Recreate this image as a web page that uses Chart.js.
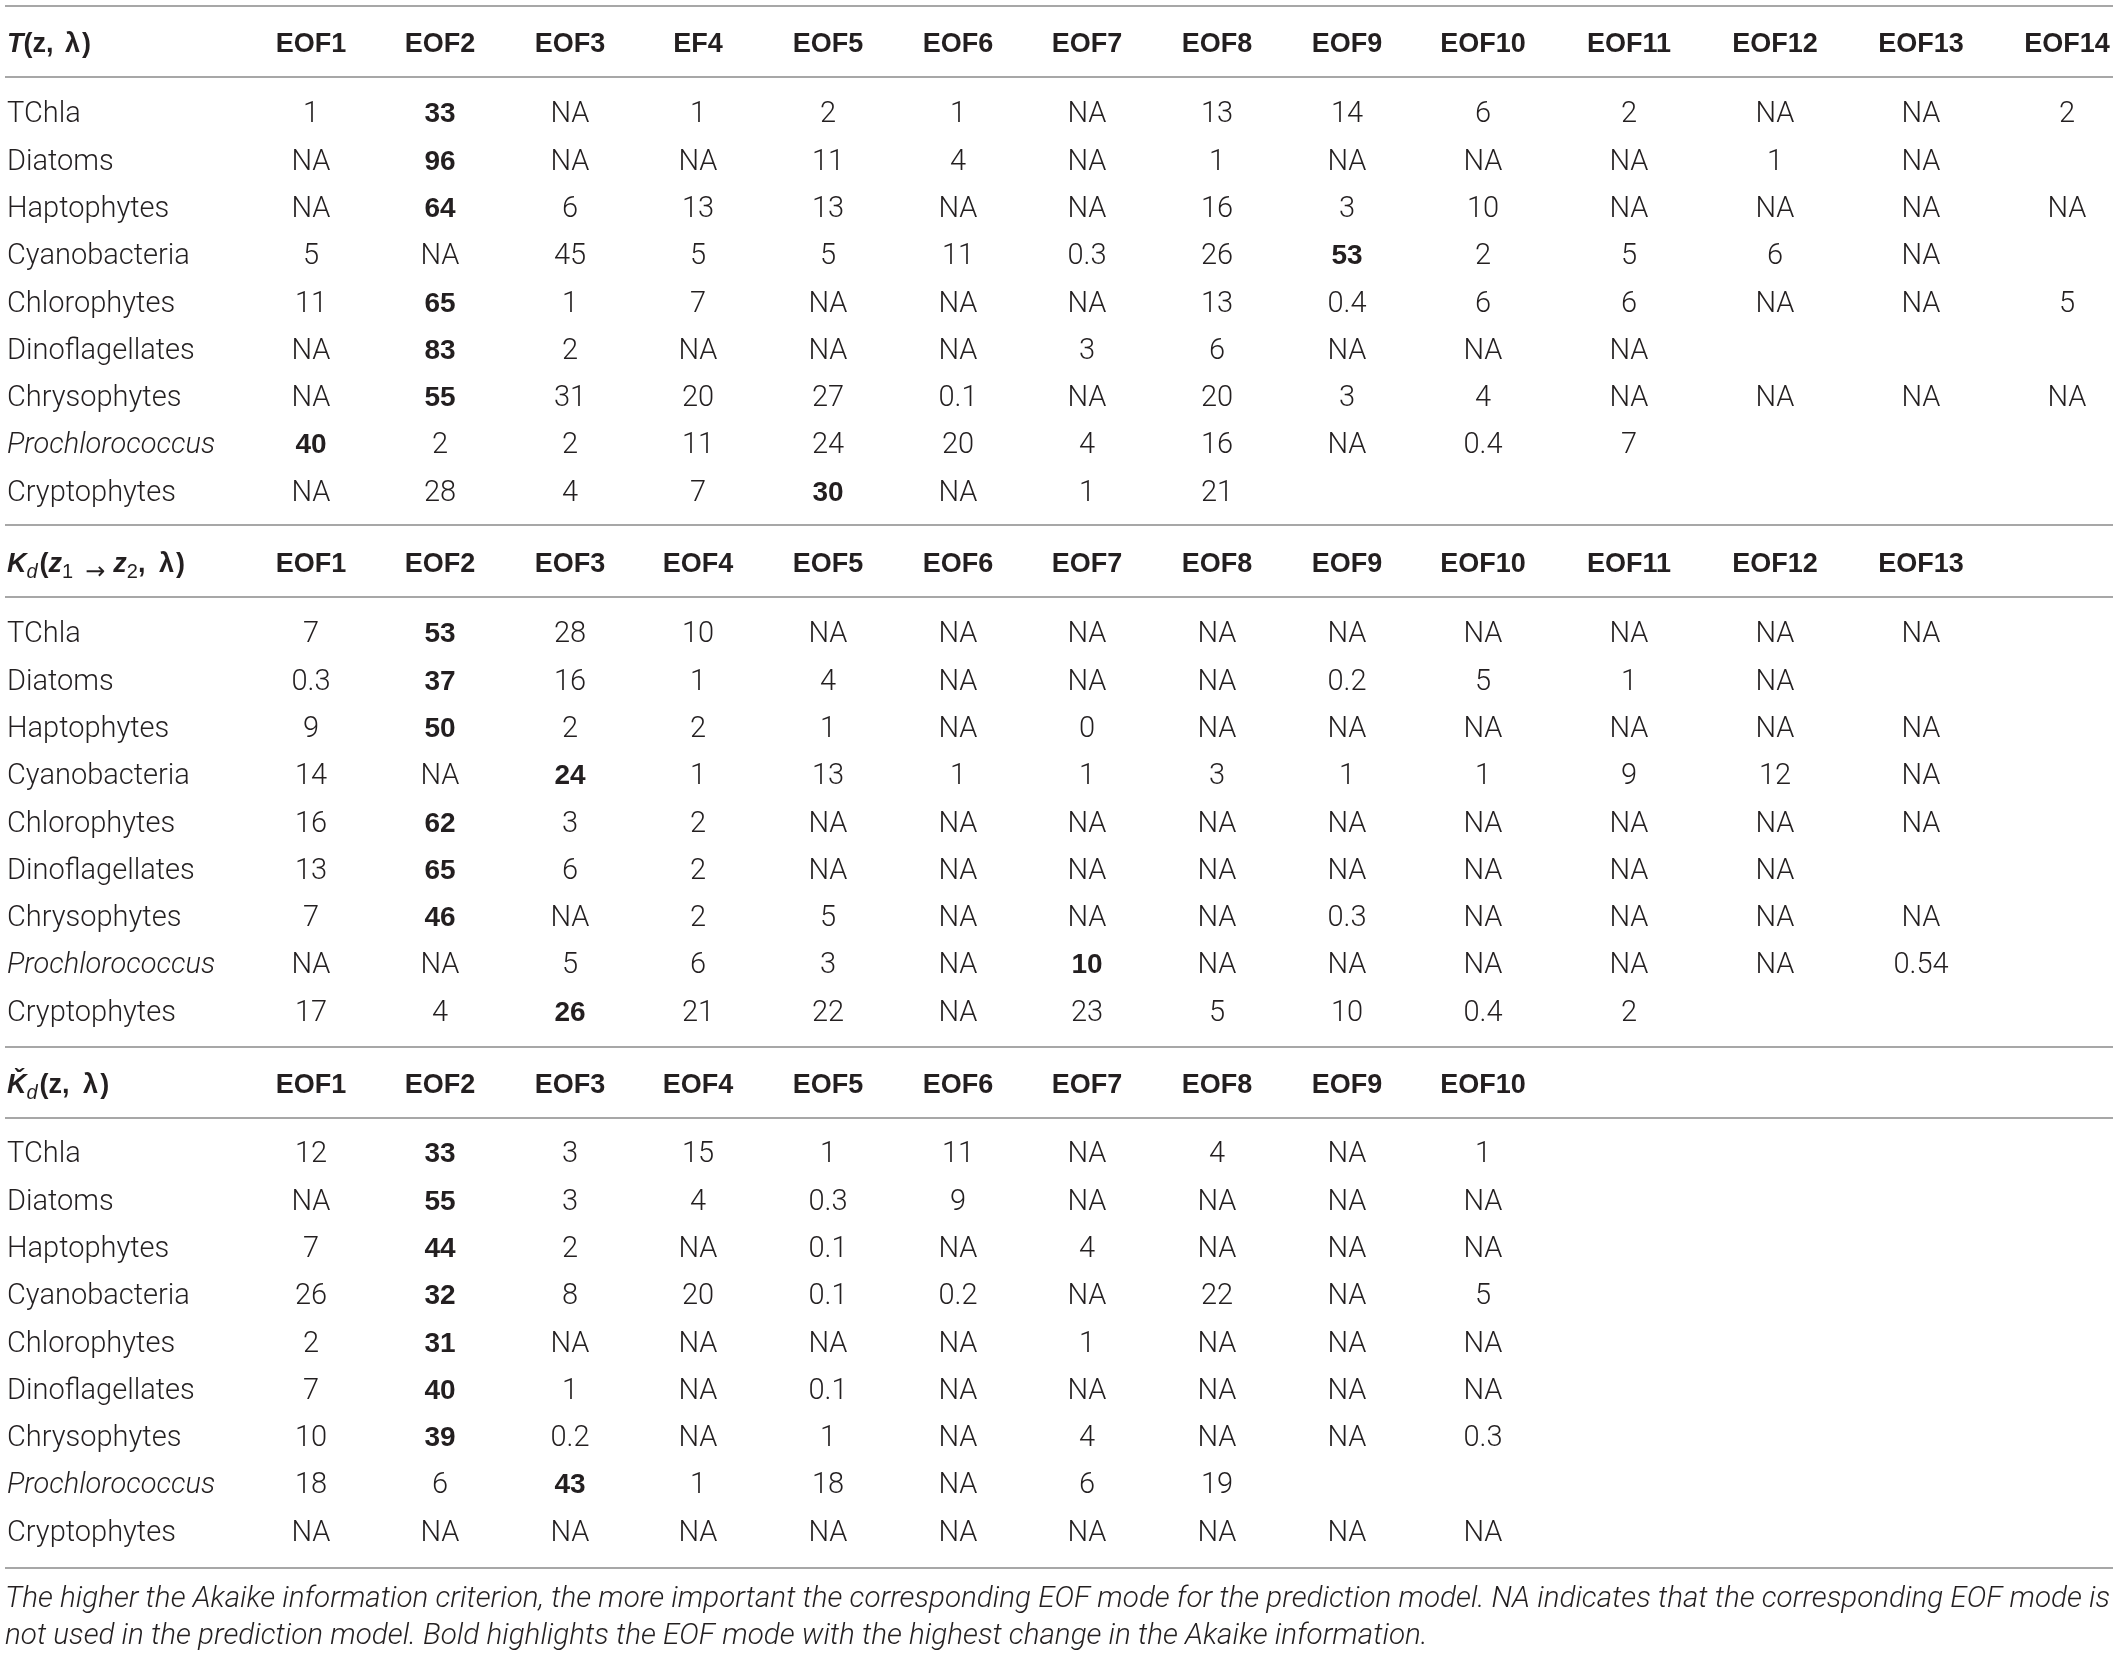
<!DOCTYPE html>
<html><head><meta charset="utf-8">
<script src="https://cdn.jsdelivr.net/npm/chart.js@4.4.0/dist/chart.umd.min.js"></script>
<style>html,body{margin:0;padding:0;background:#fff;}canvas{display:block}</style>
</head><body>
<canvas id="c" width="2118" height="1654"></canvas>
<script>
// ---------------- DATA ----------------
const rowLabels = ['TChla','Diatoms','Haptophytes','Cyanobacteria','Chlorophytes','Dinoflagellates','Chrysophytes','Prochlorococcus','Cryptophytes'];
const italicRows = ['Prochlorococcus'];

const tCols  = ['EOF1','EOF2','EOF3','EF4','EOF5','EOF6','EOF7','EOF8','EOF9','EOF10','EOF11','EOF12','EOF13','EOF14'];
const kdCols = ['EOF1','EOF2','EOF3','EOF4','EOF5','EOF6','EOF7','EOF8','EOF9','EOF10','EOF11','EOF12','EOF13'];
const kcCols = ['EOF1','EOF2','EOF3','EOF4','EOF5','EOF6','EOF7','EOF8','EOF9','EOF10'];

const tValues = [
  [1,33,'NA',1,2,1,'NA',13,14,6,2,'NA','NA',2],
  ['NA',96,'NA','NA',11,4,'NA',1,'NA','NA','NA',1,'NA',null],
  ['NA',64,6,13,13,'NA','NA',16,3,10,'NA','NA','NA','NA'],
  [5,'NA',45,5,5,11,0.3,26,53,2,5,6,'NA',null],
  [11,65,1,7,'NA','NA','NA',13,0.4,6,6,'NA','NA',5],
  ['NA',83,2,'NA','NA','NA',3,6,'NA','NA','NA',null,null,null],
  ['NA',55,31,20,27,0.1,'NA',20,3,4,'NA','NA','NA','NA'],
  [40,2,2,11,24,20,4,16,'NA',0.4,7,null,null,null],
  ['NA',28,4,7,30,'NA',1,21,null,null,null,null,null,null]
];
const tBold = [1,1,1,8,1,1,1,0,4];

const kdValues = [
  [7,53,28,10,'NA','NA','NA','NA','NA','NA','NA','NA','NA'],
  [0.3,37,16,1,4,'NA','NA','NA',0.2,5,1,'NA',null],
  [9,50,2,2,1,'NA',0,'NA','NA','NA','NA','NA','NA'],
  [14,'NA',24,1,13,1,1,3,1,1,9,12,'NA'],
  [16,62,3,2,'NA','NA','NA','NA','NA','NA','NA','NA','NA'],
  [13,65,6,2,'NA','NA','NA','NA','NA','NA','NA','NA',null],
  [7,46,'NA',2,5,'NA','NA','NA',0.3,'NA','NA','NA','NA'],
  ['NA','NA',5,6,3,'NA',10,'NA','NA','NA','NA','NA',0.54],
  [17,4,26,21,22,'NA',23,5,10,0.4,2,null,null]
];
const kdBold = [1,1,1,2,1,1,1,6,2];

const kcValues = [
  [12,33,3,15,1,11,'NA',4,'NA',1],
  ['NA',55,3,4,0.3,9,'NA','NA','NA','NA'],
  [7,44,2,'NA',0.1,'NA',4,'NA','NA','NA'],
  [26,32,8,20,0.1,0.2,'NA',22,'NA',5],
  [2,31,'NA','NA','NA','NA',1,'NA','NA','NA'],
  [7,40,1,'NA',0.1,'NA','NA','NA','NA','NA'],
  [10,39,0.2,'NA',1,'NA',4,'NA','NA',0.3],
  [18,6,43,1,18,'NA',6,19,null,null],
  ['NA','NA','NA','NA','NA','NA','NA','NA','NA','NA']
];
const kcBold = [1,1,1,1,1,1,1,2,-1];

const captionLines = [
  'The higher the Akaike information criterion, the more important the corresponding EOF mode for the prediction model. NA indicates that the corresponding EOF mode is',
  'not used in the prediction model. Bold highlights the EOF mode with the highest change in the Akaike information.'
];

// ---------------- LAYOUT / STYLE ----------------
const W = 2118, H = 1654;
const colCenters = [311,440,570,698,828,958,1087,1217,1347,1483,1629,1775,1921,2067];
const labelX = 7;
const ruleYs = [6,77,525,597,1047,1118,1568];
const ruleX0 = 5, ruleX1 = 2113;
const headerYs = [42,562,1083];
const firstRowYs = [112,632,1152];
const rowStep = 47.3;
const captionYs = [1598,1635];

const FS = 29, HFS = 27;
const TEXT = '#231f20';
const BODY = '300 ' + FS + 'px Roboto, "Liberation Sans", sans-serif';
const BOLD = 'bold 28px "Liberation Sans", Arial, sans-serif';
const HEAD = 'bold ' + HFS + 'px "Liberation Sans", Arial, sans-serif';
const ITAL = 'italic 300 ' + FS + 'px Roboto, "Liberation Sans", sans-serif';
const HB = '"Liberation Sans", Arial, sans-serif';

const headerFormulas = [
  [{t:'T', f:'italic bold 27px '+HB},{t:'(z, ', f:'bold 27px '+HB},{t:'λ', f:'bold 27px '+HB, gap:4},{t:')', f:'bold 27px '+HB, gap:2}],
  [{t:'K', f:'italic bold 27px '+HB},{t:'d', f:'italic 20px '+HB, dy:6},{t:'(', f:'bold 27px '+HB, gap:2},
   {t:'z', f:'italic bold 27px '+HB},{t:'1', f:'20px '+HB, dy:6},{t:'→', f:'24px "DejaVu Sans", sans-serif', dy:7, gap:12},
   {t:'z', f:'italic bold 27px '+HB, gap:8},{t:'2', f:'20px '+HB, dy:6},{t:', ', f:'bold 27px '+HB},
   {t:'λ', f:'bold 27px '+HB, gap:6},{t:')', f:'bold 27px '+HB, gap:2}],
  [{t:'Ǩ', f:'italic bold 27px '+HB},{t:'d', f:'italic 20px '+HB, dy:6},{t:'(z, ', f:'bold 27px '+HB, gap:2},
   {t:'λ', f:'bold 27px '+HB, gap:6},{t:')', f:'bold 27px '+HB, gap:2}]
];

// ---------------- BUILD DATASETS ----------------
const blocks = [
  {cols:tCols, vals:tValues, bold:tBold},
  {cols:kdCols, vals:kdValues, bold:kdBold},
  {cols:kcCols, vals:kcValues, bold:kcBold}
];
const datasets = [];
blocks.forEach((b, bi) => {
  const pts = [];
  pts.push({x:labelX, y:headerYs[bi], kind:'formula', runs:headerFormulas[bi]});
  b.cols.forEach((c, ci) => pts.push({x:colCenters[ci], y:headerYs[bi], kind:'head', text:c}));
  rowLabels.forEach((r, ri) => {
    const yy = firstRowYs[bi] + ri*rowStep;
    pts.push({x:labelX, y:yy, kind:'label', text:r, italic:italicRows.includes(r)});
    b.vals[ri].forEach((v, ci) => {
      if (v === null) return;
      pts.push({x:colCenters[ci], y:yy, kind:'cell', text:String(v), bold:b.bold[ri]===ci});
    });
  });
  datasets.push({label:'block'+bi, data:pts, pointRadius:0, pointHoverRadius:0});
});
datasets.push({label:'caption', data:captionLines.map((t,i)=>({x:labelX-2, y:captionYs[i], kind:'caption', text:t})), pointRadius:0, pointHoverRadius:0});

// ---------------- DRAW ----------------
let captionFont = null;
function drawItem(ctx, d, x, y){
  ctx.fillStyle = TEXT;
  ctx.textBaseline = 'alphabetic';
  if (d.kind === 'cell'){
    ctx.font = d.bold ? BOLD : BODY; ctx.textAlign = 'center'; ctx.fillText(d.text, x, y + 0.358*FS);
  } else if (d.kind === 'head'){
    ctx.font = HEAD; ctx.textAlign = 'center'; ctx.fillText(d.text, x, y + 0.358*HFS);
  } else if (d.kind === 'label'){
    ctx.font = d.italic ? ITAL : BODY; ctx.textAlign = 'left'; ctx.fillText(d.text, x, y + 0.358*FS);
  } else if (d.kind === 'formula'){
    ctx.textAlign = 'left'; let cx = x; const by = y + 0.358*HFS;
    d.runs.forEach(r => { cx += (r.gap||0); ctx.font = r.f; ctx.fillText(r.t, cx, by + (r.dy||0)); cx += ctx.measureText(r.t).width; });
  } else if (d.kind === 'caption'){
    if (!captionFont){
      ctx.font = 'italic 300 24px Roboto, "Liberation Sans", sans-serif';
      const w = ctx.measureText(captionLines[0]).width;
      const fs = 24 * (ruleX1 - ruleX0 - 2) / w;
      captionFont = 'italic 300 ' + fs.toFixed(2) + 'px Roboto, "Liberation Sans", sans-serif';
    }
    ctx.font = captionFont; ctx.textAlign = 'left'; ctx.fillText(d.text, x, y + 8.5);
  }
}

const tablePlugin = {
  id: 'tablePlugin',
  beforeDraw(chart){
    const ctx = chart.ctx; ctx.save(); ctx.fillStyle = '#fff'; ctx.fillRect(0,0,chart.width,chart.height); ctx.restore();
  },
  afterDatasetsDraw(chart){
    const ctx = chart.ctx, xs = chart.scales.x, ys = chart.scales.y;
    ctx.save();
    ctx.strokeStyle = '#a7a7a7'; ctx.lineWidth = 2;
    ruleYs.forEach(v => {
      const py = Math.round(ys.getPixelForValue(v));
      ctx.beginPath(); ctx.moveTo(xs.getPixelForValue(ruleX0), py); ctx.lineTo(xs.getPixelForValue(ruleX1), py); ctx.stroke();
    });
    chart.data.datasets.forEach((ds, di) => {
      const meta = chart.getDatasetMeta(di);
      ds.data.forEach((d, i) => { const el = meta.data[i]; drawItem(ctx, d, el.x, el.y); });
    });
    ctx.restore();
  }
};

new Chart(document.getElementById('c'), {
  type: 'scatter',
  data: {datasets},
  options: {
    responsive: false, devicePixelRatio: 1, animation: false,
    events: [],
    layout: {padding: 0},
    plugins: {legend: {display:false}, tooltip: {enabled:false}},
    scales: {
      x: {type:'linear', min:0, max:W, display:false},
      y: {type:'linear', min:0, max:H, reverse:true, display:false}
    }
  },
  plugins: [tablePlugin]
});
</script>
</body></html>
